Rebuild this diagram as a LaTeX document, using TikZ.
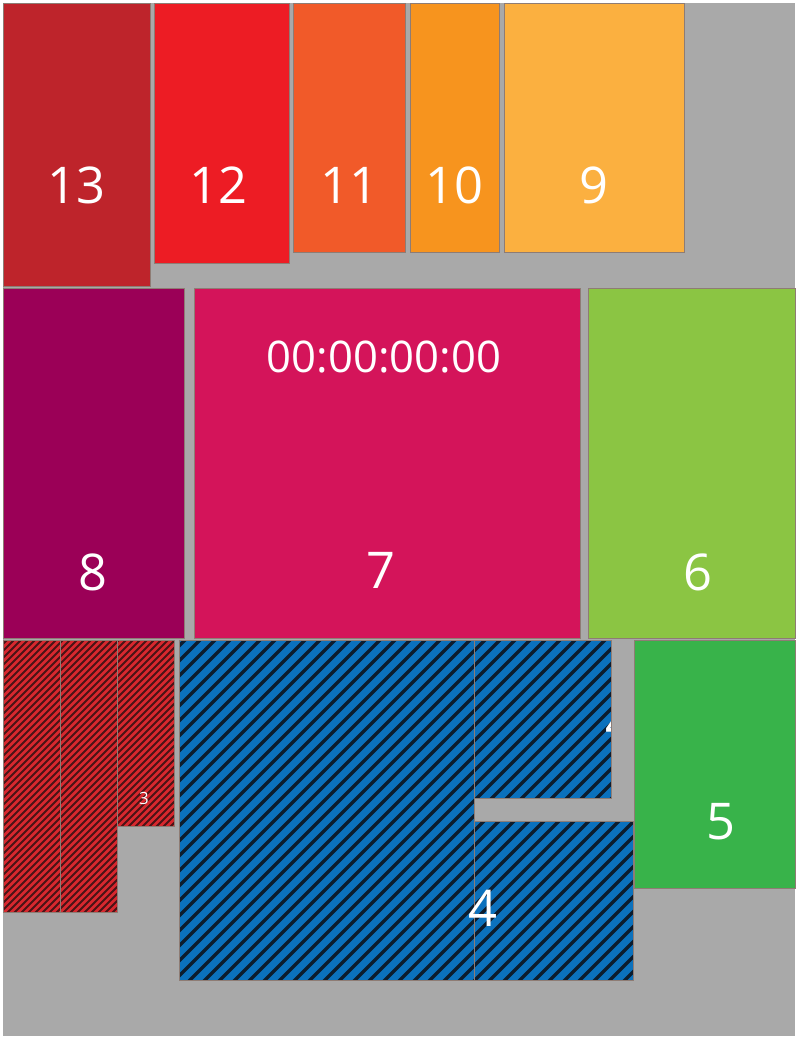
\documentclass[tikz,border=0pt]{standalone}
\usepackage{fontspec}
\setmainfont{Open Sans}
\usetikzlibrary{positioning}
\definecolor{floorgray}{HTML}{A9A9A9}
\definecolor{edgegray}{HTML}{8E7C74}
\definecolor{c13}{HTML}{BE242B}
\definecolor{c12}{HTML}{ED1C24}
\definecolor{c11}{HTML}{F15A29}
\definecolor{c10}{HTML}{F7941E}
\definecolor{c9}{HTML}{FBB040}
\definecolor{c8}{HTML}{9B0057}
\definecolor{c7}{HTML}{D4145A}
\definecolor{c6}{HTML}{8BC543}
\definecolor{c5}{HTML}{38B34A}
\definecolor{bluebase}{HTML}{0B71BD}
\definecolor{bluestripe}{HTML}{0C1C2E}
\definecolor{redbase}{HTML}{D8282E}
\definecolor{redstripe}{HTML}{4A1416}
\tikzset{
  tile/.style={draw=edgegray, line width=0.6pt},
  num/.style={text=white, font=\fontsize{36}{38}\selectfont, inner sep=0pt},
  clock/.style={text=white, font=\fontsize{31}{33}\selectfont, inner sep=0pt},
  smallnum/.style={text=white, font=\fontsize{12}{14}\selectfont, inner sep=0pt},
  bstripe/.style={draw=bluestripe, line width=2.3pt},
  rstripe/.style={draw=redstripe, line width=1.3pt}
}
\begin{document}
\begin{tikzpicture}[x=0.025cm,y=-0.025cm]
  % sheet and floor
  \fill[white] (0,0) rectangle (795,1039);
  \fill[floorgray] (3,3) rectangle (795,1036);

  % top row
  \draw[tile,fill=c13] (3,3) rectangle (150,286);
  \draw[tile,fill=c12] (154,3) rectangle (289,263);
  \draw[tile,fill=c11] (293,3) rectangle (405,252);
  \draw[tile,fill=c10] (410,3) rectangle (499,252);
  \draw[tile,fill=c9] (504,3) rectangle (684,252);
  \node[num] (n13) at (76,185) {13};
  \node[num] (n12) at (218,185) {12};
  \node[num] (n11) at (349,185) {11};
  \node[num] (n10) at (454,185) {10};
  \node[num] (n9) at (594,185) {9};

  % middle row
  \draw[tile,fill=c8] (3,288) rectangle (184,638);
  \draw[tile,fill=c7] (194,288) rectangle (580,638);
  \draw[tile,fill=c6] (588,288) rectangle (795,638);
  \node[clock] (timer) at (384,357) {00:00:00:00};
  \node[num] (n8) at (93,572) {8};
  \node[num] (n7) at (381,570) {7};
  \node[num] (n6) at (698,572) {6};

  % hatched block 3
  \begin{scope}
    \clip (3,640) rectangle (117,912) (117,640) rectangle (174,826);
    \fill[redbase] (3,640) rectangle (174,912);
    \foreach \c in {-280,-273,...,170}
      \draw[rstripe] (\c,920) -- ++(290,-290);
  \end{scope}
  \draw[tile] (3,640) rectangle (60,912);
  \draw[tile] (60,640) rectangle (117,912);
  \draw[tile] (117,640) rectangle (174,826);
  \node[smallnum] (n3) at (144,798) {3};

  % hatched block 4
  \begin{scope}
    \clip (179,640) rectangle (474,980) (474,640) rectangle (611,798)
      (474,821) rectangle (633,980);
    \fill[bluebase] (179,640) rectangle (633,980);
    \foreach \c in {-180,-165,...,630}
      \draw[bstripe] (\c,990) -- ++(360,-360);
  \end{scope}
  \begin{scope}
    \clip (474,640) rectangle (611,798);
    \node[num] (n4top) at (620,722) {4};
  \end{scope}
  \draw[tile] (179,640) rectangle (474,980);
  \draw[tile] (474,640) rectangle (611,798);
  \draw[tile] (474,821) rectangle (633,980);
  \node[num] (n4) at (483,908) {4};

  % block 5
  \draw[tile,fill=c5] (634,640) rectangle (795,888);
  \node[num] (n5) at (721,822) {5};
\end{tikzpicture}
\end{document}
